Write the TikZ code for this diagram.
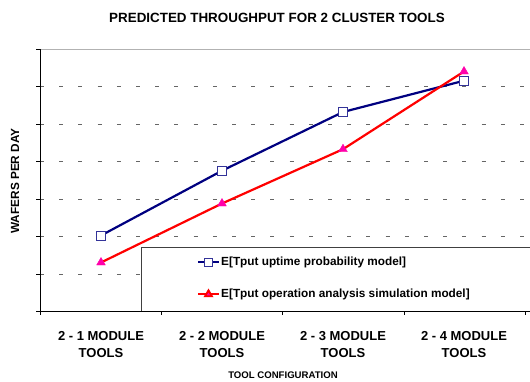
\documentclass[tikz,border=0pt]{standalone}
\usepackage{fontspec}
\setmainfont{Liberation Sans}
\definecolor{navy}{RGB}{0,0,128}
\definecolor{sqblue}{RGB}{51,51,153}
\definecolor{pinkfill}{RGB}{255,0,170}
\tikzset{
  grid line/.style={gray!80!black,dash pattern=on 4pt off 15.2pt},
  uptime/.style={navy,line width=2.2pt},
  simul/.style={red,line width=2.2pt},
  sqmark/.style={draw=sqblue,fill=white,line width=0.9pt,minimum size=9pt,inner sep=0pt},
  trimark/.style={regular polygon,regular polygon sides=3,fill=pinkfill,draw=pinkfill,minimum size=10pt,inner sep=0pt},
  catlabel/.style={font=\fontsize{13}{17.5}\selectfont\bfseries,align=center},
}
\usetikzlibrary{shapes.geometric}
\begin{document}
\begin{tikzpicture}[x=1pt,y=-1pt]
			\useasboundingbox (0,0) rectangle (530,381);
			\node[font=\fontsize{13.4}{15}\selectfont\bfseries] (title) at (277,17.5) {PREDICTED THROUGHPUT FOR 2 CLUSTER TOOLS};
			% grid and axes
			\draw[gray!60,line width=0.6pt](40,49)--(530,49);
			\foreach \y in {86.5,124,161.5,199,236.5,274}
				\draw[grid line](40,\y)--(530,\y);
			\foreach \y in {49,86.5,124,161.5,199,236.5,274,311}
				\draw[line width=0.8pt](36,\y)--(40,\y);
			\foreach \x in {40,161,282.7,404,525}
				\draw[line width=0.8pt](\x,311)--(\x,315);
			\draw[line width=1pt](40,49)--(40,311)--(530,311);
			\node[rotate=90,font=\fontsize{11.8}{14}\selectfont\bfseries] (ylab) at (15,181) {WAFERS PER DAY};
			%
			\foreach \x/\n in {101/1,222/2,343/3,464/4}
				\node[catlabel] (cat\n) at (\x,344.5) {2 - \n\ MODULE\\TOOLS};
			\node[font=\fontsize{9.6}{11}\selectfont\bfseries] (xlab) at (283,375.5) {TOOL CONFIGURATION};
			% legend
			\draw[fill=white,line width=0.9pt,draw=gray!50!black](141,247) rectangle (531,311);
			\draw[line width=1pt](141,311)--(530,311);
			\coordinate (la) at (198,262.3);
			\coordinate (lb) at (198,294.3);
			\draw[uptime,line width=1.8pt](la)--++(21,0) node[midway,sqmark,minimum size=7.5pt]{};
			\draw[simul,line width=1.8pt](lb)--++(21,0) node[midway,trimark,minimum size=8pt,draw=red]{};
			\node[anchor=west,font=\fontsize{11.8}{13}\selectfont\bfseries,inner sep=0pt] (leg1) at (221,262.3) {E[Tput uptime probability model]};
			\node[anchor=west,font=\fontsize{11.8}{13}\selectfont\bfseries,inner sep=0pt] (leg2) at (221,294.3) {E[Tput operation analysis simulation model]};
			% data
			\coordinate (b1) at (101,235.5);
			\coordinate (b2) at (222,170.7);
			\coordinate (b3) at (343,112);
			\coordinate (b4) at (464,80.7);
			\coordinate (r1) at (101,262.5);
			\coordinate (r2) at (222,203.5);
			\coordinate (r3) at (343,149.2);
			\coordinate (r4) at (464,71.5);
			\draw[uptime](b1)--(b2)--(b3)--(b4);
			\draw[simul](r1)--(r2)--(r3)--(r4);
			\foreach \n in {1,...,4}{
				\node[sqmark] (sb\n) at (b\n) {};
				\node[trimark] (tr\n) at (r\n) {};
			}
\end{tikzpicture}
\end{document}
